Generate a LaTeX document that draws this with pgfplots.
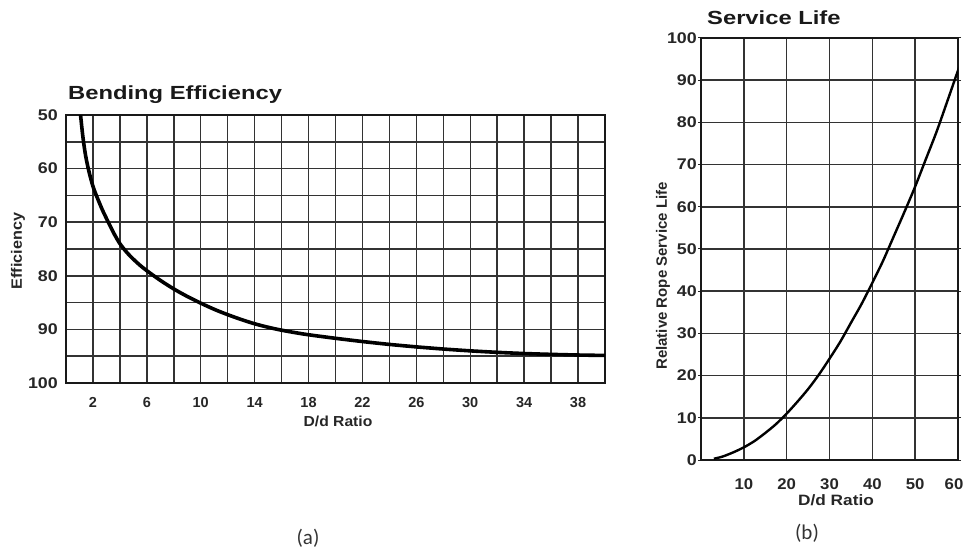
\documentclass[border=0pt]{standalone}
\usepackage{pgfplots}
\pgfplotsset{compat=1.18}
\usepackage{graphicx}
\usepackage{fontspec}
\setmainfont{Liberation Sans}
\newfontfamily\wfont[FakeStretch=1.15]{Liberation Sans}
\newfontfamily\vfont[FakeStretch=1.08]{Liberation Sans}
\newfontfamily\capfont{Carlito}

\begin{document}
\begin{tikzpicture}[x=1pt,y=1pt]
\useasboundingbox (0,0) rectangle (964,552);
\pgfplotsset{
  myaxis/.style={
    scale only axis,
    anchor=south west,
    /pgf/number format/assume math mode=true,
    axis line style={black!90, line width=1.8pt},
    grid style={black!80, line width=1.5pt},
    yticklabel style={font=\wfont\fontsize{15.5}{15.5}\selectfont\bfseries, text=black!85},
    xticklabel style={anchor=base, inner sep=0pt, text=black!85},
    clip=true,
  }
}
% ---------------- (a) Bending Efficiency ----------------
\begin{axis}[myaxis,
  at={(66pt,169pt)}, width=539pt, height=268pt,
  xmin=0, xmax=40, ymin=50, ymax=100, y dir=reverse,
  xtick={2,6,...,38}, minor xtick={0,4,...,40},
  ytick={50,60,...,100}, minor ytick={55,65,...,95},
  grid=both, major tick length=0pt, minor tick length=0pt,
  minor grid style={black!80, line width=1.5pt},
  major grid style={black!80, line width=1.5pt},
  yticklabel style={anchor=east, inner sep=0pt, xshift=-8pt},
  xticklabel style={yshift=-24pt, font=\fontsize{14.5}{14.5}\selectfont\bfseries},
]
\addplot[black, line width=3.6pt, line join=round, smooth] coordinates {
(1.08,50) (1.25,54) (1.45,57.5) (1.7,60.5) (2.0,63.3) (2.3,65.3) (2.7,67.7)
(3.1,69.8) (3.6,72.3) (4,74.0) (4.5,75.6) (5,76.9) (5.5,78.05) (6,79.05)
(7,80.85) (8,82.45) (9,83.85) (10,85.1) (11,86.25) (12,87.25) (13,88.15)
(14,88.95) (15,89.6) (16,90.15) (17,90.6) (18,91.0) (20,91.66) (22,92.26)
(24,92.8) (26,93.26) (28,93.66) (30,94.0) (32,94.28) (34,94.5) (36,94.66)
(38,94.78) (40,94.86)
};
\end{axis}
% ---------------- (b) Service Life ----------------
\begin{axis}[myaxis,
  at={(701pt,92pt)}, width=257pt, height=422pt,
  xmin=0, xmax=60, ymin=0, ymax=100,
  xtick={10,20,...,60}, ytick={0,10,...,100},
  xticklabels={10,20,30,40,50,{\kern-8pt 60}},
  grid=major, tick align=outside, major tick length=3pt,
  tick style={black!85, line width=1pt},
  xtick style={draw=none},
  xticklabel style={yshift=-26pt, font=\vfont\fontsize{15.5}{15.5}\selectfont\bfseries},
  yticklabel style={anchor=east, inner sep=0pt, xshift=-1pt},
]
\addplot[black, line width=2.4pt, line join=round, smooth] coordinates {
(3,0.3) (5,0.8) (7.5,1.8) (10,3) (12.5,4.5) (15,6.4) (17.5,8.5) (20,11)
(22.5,13.8) (25,16.8) (27.5,20.2) (30,24) (32.5,28) (35,32.5) (37.5,37)
(40,42) (42.5,47.2) (45,53) (47.5,58.8) (50,64.8) (52.5,71.3) (55,77.8)
(57.5,85) (60,92.3) (60.3,93)
};
\end{axis}
% ---------------- texts ----------------
\node[anchor=base west, inner sep=0pt, text=black!90] at (68,452)
  {\scalebox{1.25}[1]{\fontsize{19}{19}\selectfont\bfseries Bending Efficiency}};
\node[rotate=90, inner sep=0pt, text=black!85] at (18,301)
  {\vfont\fontsize{15}{15}\selectfont\bfseries Efficiency};
\node[anchor=base, inner sep=0pt, text=black!85] at (338,125)
  {\vfont\fontsize{14.5}{14.5}\selectfont\bfseries D/d Ratio};
\node[anchor=base west, inner sep=0pt, text=black!90] at (707,527)
  {\scalebox{1.25}[1]{\fontsize{19}{19}\selectfont\bfseries Service Life}};
\node[rotate=90, inner sep=0pt, text=black!85] at (663,276)
  {\fontsize{15}{15}\selectfont\bfseries Relative Rope Service Life};
\node[anchor=base, inner sep=0pt, text=black!85] at (836,47)
  {\wfont\fontsize{15}{15}\selectfont\bfseries D/d Ratio};
\node[inner sep=0pt, text=black!80] at (308,14)
  {\capfont\fontsize{21}{21}\selectfont (a)};
\node[inner sep=0pt, text=black!80] at (807,19)
  {\capfont\fontsize{21}{21}\selectfont (b)};
\end{tikzpicture}
\end{document}
